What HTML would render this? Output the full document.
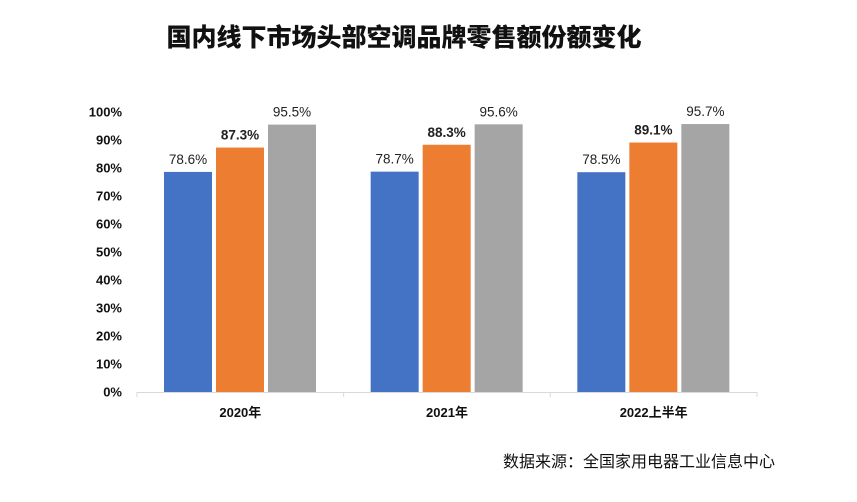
<!DOCTYPE html>
<html><head><meta charset="utf-8"><style>
body{margin:0;background:#fff;}
svg text{font-family:"Liberation Sans","Noto Sans CJK SC",sans-serif;}
</style></head><body>
<svg id="chart" width="857" height="497" xmlns="http://www.w3.org/2000/svg">
<rect width="857" height="497" fill="#fff"/>
<text x="404" y="46" text-anchor="middle" font-size="25" font-weight="900" fill="#111">国内线下市场头部空调品牌零售额份额变化</text>
<g id="yaxis"></g>
<g id="bars"></g>
<text x="639" y="467" text-anchor="middle" font-size="16" fill="#111">数据来源：全国家用电器工业信息中心</text>
</svg>
<script>
const categories = ["2020年","2021年","2022上半年"];
const seriesBlue = [78.6, 78.7, 78.5];
const seriesOrange = [87.3, 88.3, 89.1];
const seriesGray = [95.5, 95.6, 95.7];
const yTicks = [0,10,20,30,40,50,60,70,80,90,100];

const NS="http://www.w3.org/2000/svg";
const x0=137, x1=757, yTop=112, yBot=392;
const y=v=>yBot-(v/100)*(yBot-yTop);
const gw=(x1-x0)/categories.length;
const yg=document.getElementById('yaxis'), bg=document.getElementById('bars');
function mk(tag,attrs,parent){const e=document.createElementNS(NS,tag);for(const k in attrs)e.setAttribute(k,attrs[k]);parent.appendChild(e);return e;}
yTicks.forEach(t=>{
  const e=mk('text',{x:122,y:y(t)+4.5,'text-anchor':'end','font-size':'13','font-weight':'bold',fill:'#111'},yg);
  e.textContent=t+'%';
  
  
});
const ax=mk('line',{x1:x0,x2:x1,y1:yBot+0.5,y2:yBot+0.5,stroke:'#d9d9d9','stroke-width':1},yg);


for(let i=0;i<=categories.length;i++){
  const tk=mk('line',{x1:x0+i*gw,x2:x0+i*gw,y1:yBot,y2:yBot+5,stroke:'#d9d9d9'},yg);
  
  
}
const series=[{d:seriesBlue,c:'#4472c4',b:false,n:'blue'},{d:seriesOrange,c:'#ed7d31',b:true,n:'orange'},{d:seriesGray,c:'#a5a5a5',b:false,n:'gray'}];
const bw=48, gap=4, off=27;
categories.forEach((cat,i)=>{
  const gx=x0+i*gw;
  series.forEach((s,j)=>{
    const bx=gx+off+j*(bw+gap);
    const r=mk('rect',{x:bx,y:y(s.d[i]),width:bw,height:yBot-y(s.d[i]),fill:s.c},bg);
    
    
    const t=mk('text',{x:bx+bw/2,y:y(s.d[i])-8,'text-anchor':'middle','font-size':'13.5','font-weight':s.b?'bold':'normal',fill:'#222'},bg);
    t.textContent=s.d[i].toFixed(1)+'%';
    
    
  });
  const ct=mk('text',{x:gx+gw/2,y:417,'text-anchor':'middle','font-size':'13','font-weight':'bold',fill:'#111'},bg);
  ct.textContent=cat;
  
  
});
</script>
</body></html>
